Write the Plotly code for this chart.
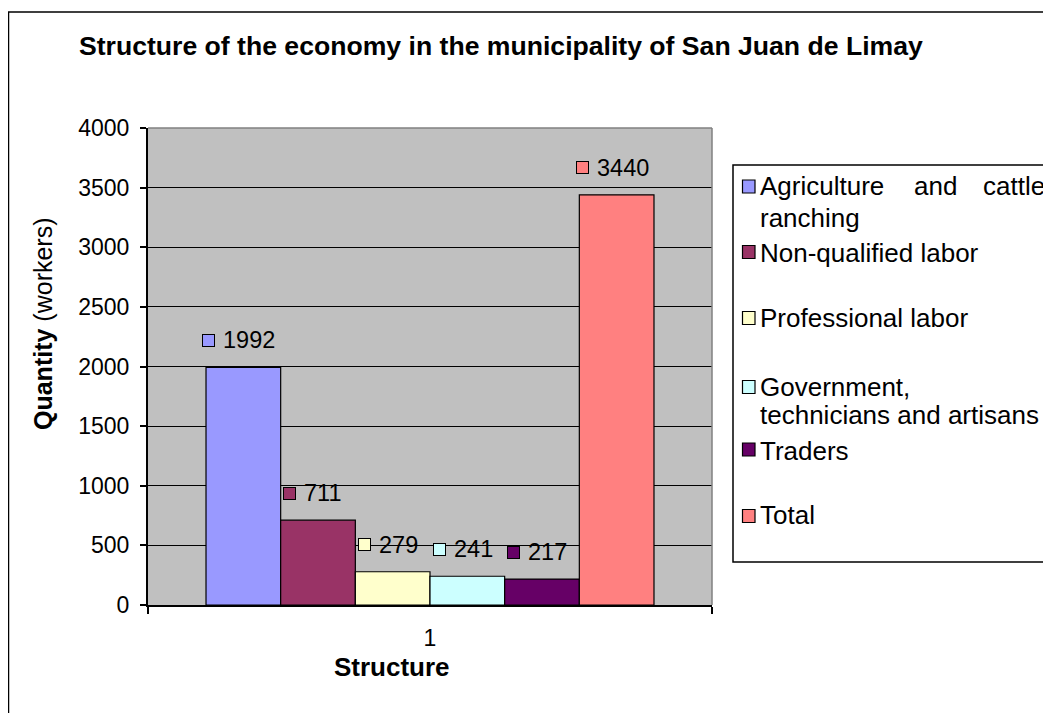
import plotly.graph_objects as go

# ---- data ----
categories = ["1"]
series_names = ["Agriculture and cattle ranching", "Non-qualified labor", "Professional labor",
                "Government, technicians and artisans", "Traders", "Total"]
series_values = [1992, 711, 279, 241, 217, 3440]
series_colors = ["#9999FF", "#993366", "#FFFFCC", "#CCFFFF", "#660066", "#FF8080"]
y_ticks = [0, 500, 1000, 1500, 2000, 2500, 3000, 3500, 4000]
title_text = "Structure of the economy in the municipality of San Juan de Limay"
x_title = "Structure"
y_title_bold = "Quantity"
y_title_rest = " (workers)"

FONT = "Arial, Liberation Sans, sans-serif"
OFF = 8  # default page body margin of the html page
W, H = 1051, 713
PL, PR, PT, PB = 148 - OFF, 712 - OFF, 128 - OFF, 605 - OFF
BARGAP = 0.2057


def px(x):
    """page pixel x (reference coordinates) -> paper fraction"""
    return (x - OFF - PL) / (PR - PL)


def py(y):
    """page pixel y (reference coordinates) -> paper fraction"""
    return (PB - (y - OFF)) / (PB - PT)


fig = go.Figure()
for name, val, col in zip(series_names, series_values, series_colors):
    fig.add_trace(go.Bar(x=categories, y=[val], name=name,
                         marker=dict(color=col, line=dict(color="black", width=1.2)),
                         showlegend=False, hoverinfo="name+y"))

annotations = []
shapes = []

# data labels (legend key + value) above each bar
n = len(series_values)
group = 1 - BARGAP
lab_fs = 23.5
for i, (val, col) in enumerate(zip(series_values, series_colors)):
    xc = -group / 2 + (i + 0.5) * group / n
    txt = str(val)
    block = 13 + 7 + len(txt) * 0.556 * lab_fs
    left = -5 - block / 2
    annotations.append(dict(x=xc, y=val, xref="x", yref="y", text=" ", showarrow=False,
                            font=dict(size=2), width=11, height=11, bgcolor=col,
                            bordercolor="black", borderwidth=1, borderpad=0,
                            xanchor="center", yanchor="middle", xshift=left + 6.5, yshift=27))
    annotations.append(dict(x=xc, y=val, xref="x", yref="y", text=txt, showarrow=False,
                            font=dict(size=lab_fs, color="black", family=FONT), borderpad=0,
                            xanchor="left", yanchor="middle", xshift=left + 20, yshift=27))

# title and axis titles
annotations.append(dict(x=px(500.5), y=py(46), xref="paper", yref="paper", text="<b>" + title_text + "</b>",
                        showarrow=False, font=dict(size=26.6, family=FONT, color="black"),
                        xanchor="center", yanchor="middle"))
annotations.append(dict(x=px(392), y=py(667), xref="paper", yref="paper", text="<b>" + x_title + "</b>",
                        showarrow=False, font=dict(size=26, family=FONT, color="black"),
                        xanchor="center", yanchor="middle"))
annotations.append(dict(x=px(43), y=py(324), xref="paper", yref="paper",
                        text="<b>" + y_title_bold + "</b>" + y_title_rest, textangle=-90,
                        showarrow=False, font=dict(size=25, family=FONT, color="black"),
                        xanchor="center", yanchor="middle"))

# custom legend (Excel style, wrapped text)
leg_fs = 26
legend_lines = [
    [("Agriculture", 759, 186), ("and", 913, 186), ("cattle", 982, 186), ("ranching", 759, 218)],
    [("Non-qualified labor", 759, 253)],
    [("Professional labor", 759, 318)],
    [("Government,", 759, 387), ("technicians and artisans", 759, 415)],
    [("Traders", 759, 451)],
    [("Total", 759, 515)],
]
key_y = [186.5, 252, 318, 387, 449.5, 516]
for i, col in enumerate(series_colors):
    shapes.append(dict(type="rect", xref="paper", yref="paper",
                       x0=px(742.5), x1=px(755), y0=py(key_y[i] - 6.5), y1=py(key_y[i] + 6.5),
                       fillcolor=col, line=dict(color="black", width=1.2)))
    for t, lx, ly in legend_lines[i]:
        annotations.append(dict(x=px(lx), y=py(ly), xref="paper", yref="paper", text=t,
                                showarrow=False, font=dict(size=leg_fs, family=FONT, color="black"),
                                xanchor="left", yanchor="middle", borderpad=0))

# legend box
shapes.append(dict(type="rect", xref="paper", yref="paper", x0=px(733), x1=px(1090),
                   y0=py(562), y1=py(165), line=dict(color="black", width=1.5)))
# outer chart border
shapes.append(dict(type="rect", xref="paper", yref="paper", x0=px(8.5), x1=px(1090),
                   y0=py(760), y1=py(12), line=dict(color="black", width=1.5)))
# plot-area top / right border (gray)
shapes.append(dict(type="line", xref="paper", yref="paper", x0=0, x1=1, y0=1, y1=1,
                   line=dict(color="#808080", width=1.5), layer="above"))
shapes.append(dict(type="line", xref="paper", yref="paper", x0=1, x1=1, y0=0, y1=1,
                   line=dict(color="#808080", width=1.5), layer="above"))

fig.update_layout(
    width=W, height=H, autosize=False,
    margin=dict(l=PL, r=W - PR, t=PT, b=H - PB, pad=0),
    paper_bgcolor="white", plot_bgcolor="#C0C0C0",
    barmode="group", bargap=BARGAP, bargroupgap=0,
    font=dict(family=FONT, color="black", size=23),
    showlegend=False,
    annotations=annotations, shapes=shapes,
    xaxis=dict(type="category", tickson="boundaries", ticks="outside", ticklen=7, tickwidth=1.5,
               tickcolor="black", showline=True, linecolor="black", linewidth=2,
               showgrid=False, tickfont=dict(size=23), ticklabelstandoff=11),
    yaxis=dict(range=[0, 4000], tickvals=y_ticks, ticks="outside", ticklen=6, tickwidth=1.5,
               tickcolor="black", showline=True, linecolor="black", linewidth=2,
               showgrid=True, gridcolor="black", gridwidth=1.3, zeroline=False,
               tickfont=dict(size=23), ticklabelstandoff=6),
)

fig.write_html("out.html")
